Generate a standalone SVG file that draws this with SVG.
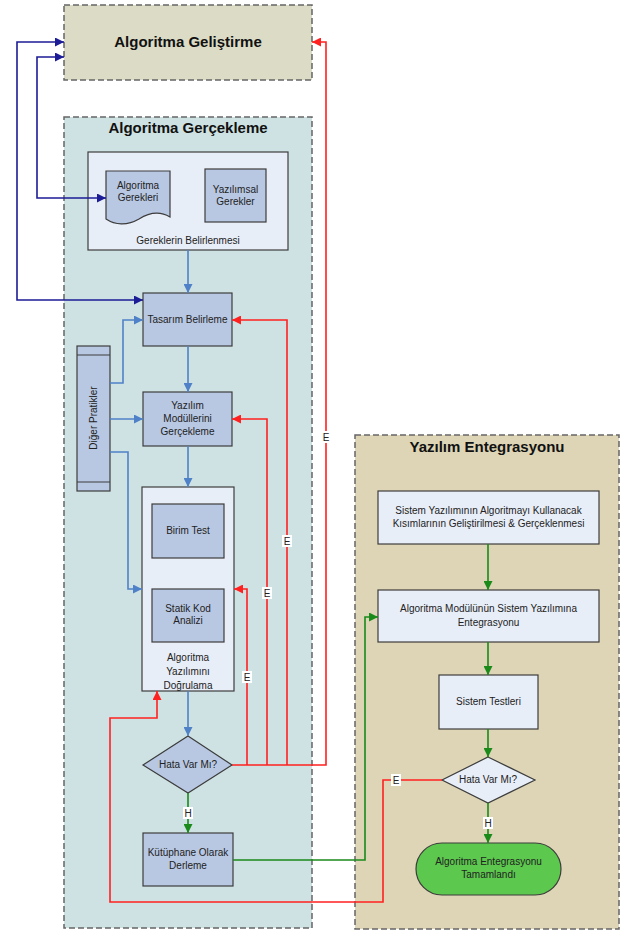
<svg xmlns="http://www.w3.org/2000/svg" width="627" height="931" viewBox="0 0 627 931">
<style>
text{font-family:"Liberation Sans",Arial,sans-serif;font-size:10px;fill:#222;text-anchor:middle}
.title{font-size:15px;font-weight:bold;fill:#111}
.lane{stroke:#666;stroke-width:1.5;stroke-dasharray:6,3}
.node{fill:#b8c8e2;stroke:#3c3c3c;stroke-width:1.2}
.light{fill:#e8eef8;stroke:#3c3c3c;stroke-width:1.2}
.c{fill:none;stroke-width:1.6}
.navy{stroke:#1c1c96}
.blue{stroke:#4f81c9}
.red{stroke:#ff2020}
.green{stroke:#1a8a1a}
.lbl{fill:#fff}
</style>
<defs>
<marker id="aNavy" viewBox="0 0 10 10" refX="10" refY="5" markerWidth="9" markerHeight="9" markerUnits="userSpaceOnUse" orient="auto-start-reverse"><path d="M0,0 L10,5 L0,10 z" fill="#1c1c96"/></marker>
<marker id="aBlue" viewBox="0 0 10 10" refX="10" refY="5" markerWidth="9" markerHeight="9" markerUnits="userSpaceOnUse" orient="auto"><path d="M0,0 L10,5 L0,10 z" fill="#4f81c9"/></marker>
<marker id="aRed" viewBox="0 0 10 10" refX="10" refY="5" markerWidth="9" markerHeight="9" markerUnits="userSpaceOnUse" orient="auto"><path d="M0,0 L10,5 L0,10 z" fill="#ff2020"/></marker>
<marker id="aGreen" viewBox="0 0 10 10" refX="10" refY="5" markerWidth="9" markerHeight="9" markerUnits="userSpaceOnUse" orient="auto"><path d="M0,0 L10,5 L0,10 z" fill="#1a8a1a"/></marker>
</defs>

<g id="lane-gelistirme">
<rect class="lane" x="64" y="5" width="248" height="75" fill="#dcdcc6"/>
<text class="title" x="188" y="47">Algoritma Geliştirme</text>
</g>
<g id="lane-gerceklestirme">
<rect class="lane" x="64" y="117" width="248" height="811" fill="#cfe2e3"/>
<text class="title" x="188" y="133">Algoritma Gerçekleme</text>
</g>
<g id="lane-entegrasyon">
<rect class="lane" x="355" y="435" width="264" height="494" fill="#ddd5b5"/>
<text class="title" x="487" y="452">Yazılım Entegrasyonu</text>
</g>

<g id="gereklerin-belirlenmesi">
<rect class="light" x="88" y="152" width="200" height="98" fill="#e8eef8"/>
<text x="188" y="244">Gereklerin Belirlenmesi</text>
</g>
<g id="algoritma-gerekleri">
<path class="node" d="M106,171 H170 V217 C160,211 150,212 139,219 C127,226 115,225 106,219 Z"/>
<text x="138" y="189">Algoritma</text>
<text x="138" y="201">Gerekleri</text>
</g>
<g id="yazilimsal-gerekler">
<rect class="node" x="205" y="169" width="61" height="53"/>
<text x="235.5" y="193">Yazılımsal</text>
<text x="235.5" y="205">Gerekler</text>
</g>
<g id="tasarim-belirleme">
<rect class="node" x="143" y="293" width="89" height="53"/>
<text x="187.5" y="323">Tasarım Belirleme</text>
</g>
<g id="diger-pratikler">
<rect class="node" x="77" y="346" width="33" height="145"/>
<line x1="77" y1="355" x2="110" y2="355" stroke="#3c3c3c" stroke-width="1.2"/>
<line x1="77" y1="482" x2="110" y2="482" stroke="#3c3c3c" stroke-width="1.2"/>
<text x="0" y="0" transform="translate(97,418) rotate(-90)">Diğer Pratikler</text>
</g>
<g id="yazilim-modulleri">
<rect class="node" x="143" y="392" width="89" height="54"/>
<text x="187.5" y="409">Yazılım</text>
<text x="187.5" y="422">Modüllerini</text>
<text x="187.5" y="435">Gerçekleme</text>
</g>
<g id="algoritma-dogrulama">
<rect class="light" x="142" y="487" width="92" height="204"/>
<text x="188" y="661">Algoritma</text>
<text x="188" y="675">Yazılımını</text>
<text x="188" y="689">Doğrulama</text>
</g>
<g id="birim-test">
<rect class="node" x="152" y="504" width="72" height="54"/>
<text x="188" y="534">Birim Test</text>
</g>
<g id="statik-kod">
<rect class="node" x="152" y="589" width="72" height="53"/>
<text x="188" y="612">Statik Kod</text>
<text x="188" y="624">Analizi</text>
</g>
<g id="hata-var-mi-1">
<path class="node" d="M188,736 L232,765 L188,793 L143,765 Z"/>
<text x="188" y="768">Hata Var Mı?</text>
</g>
<g id="kutuphane">
<rect class="node" x="143" y="833" width="90" height="53"/>
<text x="188" y="856">Kütüphane Olarak</text>
<text x="188" y="869">Derleme</text>
</g>

<g id="sistem-yazilimi">
<rect class="light" x="378" y="491" width="221" height="53"/>
<text x="488.5" y="514">Sistem Yazılımının Algoritmayı Kullanacak</text>
<text x="488.5" y="527">Kısımlarının Geliştirilmesi &amp; Gerçeklenmesi</text>
</g>
<g id="algoritma-modulu">
<rect class="light" x="378" y="590" width="221" height="52"/>
<text x="488.5" y="612">Algoritma Modülünün Sistem Yazılımına</text>
<text x="488.5" y="626">Entegrasyonu</text>
</g>
<g id="sistem-testleri">
<rect class="light" x="439" y="675" width="99" height="54"/>
<text x="488.5" y="705">Sistem Testleri</text>
</g>
<g id="hata-var-mi-2">
<path class="light" d="M488,757 L535,780 L488,803 L442,780 Z"/>
<text x="488" y="783">Hata Var Mı?</text>
</g>
<g id="entegrasyon-tamam">
<rect x="416" y="843" width="145" height="52" rx="26" ry="26" fill="#5cc84e" stroke="#3c3c3c" stroke-width="1.2"/>
<text x="488.5" y="865">Algoritma Entegrasyonu</text>
<text x="488.5" y="878">Tamamlandı</text>
</g>

<g id="connectors">
<path class="c navy" d="M143,300 H17 V42 H64" marker-start="url(#aNavy)" marker-end="url(#aNavy)"/>
<path class="c navy" d="M106,198 H37 V57 H64" marker-start="url(#aNavy)" marker-end="url(#aNavy)"/>

<path class="c blue" d="M188,250 V293" marker-end="url(#aBlue)"/>
<path class="c blue" d="M188,346 V392" marker-end="url(#aBlue)"/>
<path class="c blue" d="M188,446 V487" marker-end="url(#aBlue)"/>
<path class="c blue" d="M188,691 V736" marker-end="url(#aBlue)"/>
<path class="c blue" d="M110,383 H123 V320 H143" marker-end="url(#aBlue)"/>
<path class="c blue" d="M110,419 H143" marker-end="url(#aBlue)"/>
<path class="c blue" d="M110,452 H128 V589 H142" marker-end="url(#aBlue)"/>

<path class="c red" d="M232,765 H326 V42 H312" marker-end="url(#aRed)"/>
<path class="c red" d="M287,765 V320 H232" marker-end="url(#aRed)"/>
<path class="c red" d="M267,765 V419 H232" marker-end="url(#aRed)"/>
<path class="c red" d="M247,765 V589 H234" marker-end="url(#aRed)"/>
<path class="c red" d="M442,780 H383 V902 H110 V718 H157 V691" marker-end="url(#aRed)"/>

<path class="c green" d="M188,793 V833" marker-end="url(#aGreen)"/>
<path class="c green" d="M233,860 H365 V617 H378" marker-end="url(#aGreen)"/>
<path class="c green" d="M488,544 V590" marker-end="url(#aGreen)"/>
<path class="c green" d="M488,642 V675" marker-end="url(#aGreen)"/>
<path class="c green" d="M488,729 V757" marker-end="url(#aGreen)"/>
<path class="c green" d="M488,803 V843" marker-end="url(#aGreen)"/>

<rect class="lbl" x="321" y="431" width="10" height="12"/><text x="326" y="441">E</text>
<rect class="lbl" x="282" y="535" width="10" height="12"/><text x="287" y="545">E</text>
<rect class="lbl" x="262" y="587" width="10" height="12"/><text x="267" y="597">E</text>
<rect class="lbl" x="242" y="671" width="10" height="12"/><text x="247" y="681">E</text>
<rect class="lbl" x="391" y="774" width="10" height="12"/><text x="396" y="784">E</text>
<rect class="lbl" x="183" y="807" width="10" height="12"/><text x="188" y="817">H</text>
<rect class="lbl" x="483" y="817" width="10" height="12"/><text x="488" y="827">H</text>
</g>
</svg>
